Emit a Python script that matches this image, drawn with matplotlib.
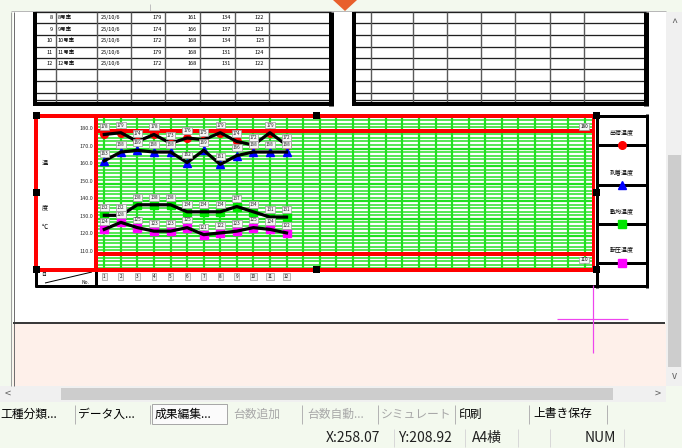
import matplotlib
matplotlib.use('Agg')
import matplotlib.pyplot as plt
from matplotlib.patches import Rectangle, Polygon
from matplotlib.transforms import ScaledTranslation

plt.rcParams['font.family'] = ['Noto Sans CJK JP', 'DejaVu Sans']

# temperatures per truck (No. 1-12)
truck_no = [1, 2, 3, 4, 5, 6, 7, 8, 9, 10, 11, 12]
shipping_temp = [178, 179, 174, 178, 173, 176, 175, 179, 174, 172, 179, 172]
arrival_temp = [163, 168, 169, 168, 168, 162, 169, 161, 166, 168, 168, 168]
spreading_temp = [132, 132, 138, 138, 138, 134, 134, 134, 137, 134, 131, 131]
rolling_temp = [124, 128, 125, 123, 123, 125, 121, 122, 123, 125, 124, 122]

series_names = ['出荷温度', '到着温度', '敷均温度', '転圧温度']
series_colors = ['#ff0000', '#0000ff', '#00e600', '#ff00ff']
series_markers = ['o', '^', 's', 's']
upper_limit = 180
lower_limit = 110
y_ticks = [110, 120, 130, 140, 150, 160, 170, 180]
n_columns = 30

table_rows = [8, 9, 10, 11, 12]
date_text = '25/10/6'

toolbar_labels = ['工種分類...', 'データ入...', '成果編集...', '台数追加', '台数自動...', 'シミュレート', '印刷', '上書き保存']
toolbar_enabled = [True, True, True, False, False, False, True, True]
status_labels = ['X:258.07', 'Y:208.92', 'A4横', 'NUM']

PX = 0.72  # points per pixel at 100 dpi
GREEN = '#22e022'


def line(ax, xs, ys, px=1.0, color='black', z=2):
    ax.plot(xs, ys, color=color, lw=px * PX, solid_capstyle='butt', zorder=z)


def box(ax, x0, y0, x1, y1, fc, ec='none', px=0.0, z=1):
    ax.add_patch(Rectangle((x0, y0), x1 - x0, y1 - y0, facecolor=fc, edgecolor=ec, lw=px * PX, zorder=z))


fig = plt.figure(figsize=(6.82, 4.48), dpi=100)

# ---- window chrome / page (pixel coordinates)
bg = fig.add_axes([0, 0, 1, 1], zorder=0)
bg.set_xlim(0, 682)
bg.set_ylim(448, 0)
bg.axis('off')

box(bg, 0, 0, 682, 448, '#f3f9ee', z=0)
box(bg, 13, 12, 666, 323, 'white', z=0.5)
box(bg, 13, 324, 666, 386, '#fef0ea', z=0.5)
line(bg, [11, 666], [11.5, 11.5], 1, '#b8b8b8')
line(bg, [11, 11], [12, 386], 1, '#a0a0a0')
line(bg, [13.5, 13.5], [12, 386], 1, '#707070')
line(bg, [150, 150], [4, 11], 1, '#c0c0c0')
bg.add_patch(Polygon([[333, 0], [357, 0], [345, 11]], closed=True, fc='#e8602c', ec='none', zorder=3))
line(bg, [13, 665], [323, 323], 2, '#3a3a3a')

# vertical scrollbar
box(bg, 666, 12, 682, 386, '#f0f0f0', z=0.6)
box(bg, 668, 155, 681, 367, '#cdcdcd', z=0.7)
bg.text(674, 23, '^', ha='center', va='center', fontsize=8, color='#606060')
bg.text(674, 376, 'v', ha='center', va='center', fontsize=7, color='#606060')

# horizontal scrollbar
box(bg, 0, 386, 666, 402, '#f0f0f0', z=0.6)
box(bg, 61, 388, 613, 400, '#cdcdcd', z=0.7)
bg.text(8, 394, '<', ha='center', va='center', fontsize=8, color='#606060')
bg.text(658, 394, '>', ha='center', va='center', fontsize=8, color='#606060')

# toolbar
tool_x = [0, 78, 155, 233, 307, 381, 459, 533]
tool_sep = [75, 150, 302, 378, 455, 529, 607]
box(bg, 152, 404, 227, 424, '#fbfbfb', '#a8a8a8', 1, z=0.8)
for label, x0, on in zip(toolbar_labels, tool_x, toolbar_enabled):
    bg.text(x0, 414, label, ha='left', va='center', fontsize=8.5,
            color='black' if on else '#a8a8a8')
for xs in tool_sep:
    line(bg, [xs, xs], [405, 424], 1, '#b4b4b4')

# status bar
status_x = [326, 398, 472, 585]
for label, x0 in zip(status_labels, status_x):
    bg.text(x0, 438, label, ha='left', va='center', fontsize=10, color='#202020')
for xs in [394, 465, 518, 550, 624]:
    line(bg, [xs, xs], [429, 447], 1, '#d8d8d8')

# ---- upper tables
rows_y = [12.5, 23.3, 35, 46.7, 58.3, 69.5, 81, 92.7, 100, 104]
left_cols = [35, 56, 96.7, 130.7, 165.3, 200, 235, 268.7, 330.5]
right_cols = [354, 370.7, 412.7, 446.7, 481, 515.3, 550, 584.3, 646]
for cols in (left_cols, right_cols):
    for ry in rows_y[:-1]:
        line(bg, [cols[0], cols[-1]], [ry, ry], 1.3, '#202020')
    for cx in cols[1:-1]:
        line(bg, [cx, cx], [12, 104], 1.4, '#5a5a5a')
    line(bg, [cols[0], cols[0]], [12, 106], 4)
    line(bg, [cols[-1], cols[-1]], [12, 106], 5)
    line(bg, [cols[0] - 2, cols[-1] + 2.5], [104.5, 104.5], 4)

table_cols = [shipping_temp, arrival_temp, spreading_temp, rolling_temp]
for i, n in enumerate(table_rows):
    yc = (rows_y[i] + rows_y[i + 1]) / 2
    bg.text(53, yc, str(n), ha='right', va='center', fontsize=4)
    bg.text(58, yc, f'{n}号車', ha='left', va='center', fontsize=4)
    bg.text(101, yc, date_text, ha='left', va='center', fontsize=4)
    for vals, xr in zip(table_cols, [162, 196.7, 230.7, 264.3]):
        bg.text(xr, yc, str(vals[n - 1]), ha='right', va='center', fontsize=4)

# ---- chart
ax = fig.add_axes([96 / 682, 1 - 270 / 448, 497 / 682, 154 / 448], zorder=1)
ax.set_facecolor('white')
ax.set_xlim(0.5, n_columns + 0.5)
ax.set_ylim(100.9, 188.5)

for v in range(102, 189, 2):
    ax.axhline(v, color=GREEN, lw=1.5 * PX, zorder=1)
for v in y_ticks:
    ax.axhline(v, color=GREEN, lw=2.2 * PX, zorder=1)
for c in range(1, n_columns + 1):
    ax.axvline(c, color=GREEN, lw=2.2 * PX, zorder=1)
ax.axhline(upper_limit, color='#ff0000', lw=4 * PX, zorder=2)
ax.axhline(lower_limit, color='#ff0000', lw=4 * PX, zorder=2)

all_series = [shipping_temp, arrival_temp, spreading_temp, rolling_temp]
for vals, col, mk in zip(all_series, series_colors, series_markers):
    ax.plot(truck_no, vals, linestyle='none', marker=mk, ms=5.5, color=col, mec=col, zorder=3)
    ax.plot(truck_no, vals, color='black', lw=2.3, zorder=4)
    for xi, v in zip(truck_no, vals):
        ax.annotate(str(v), (xi, v), xytext=(0, 5.5), textcoords='offset points',
                    ha='center', va='center', fontsize=3.3, color='#202020', zorder=5,
                    bbox=dict(boxstyle='square,pad=0.2', fc='#f6f6f6', ec='#9a9a9a', lw=0.5))

ax.set_xticks([])
ax.set_yticks(y_ticks)
ax.set_yticklabels([f'{v:.1f}' for v in y_ticks], fontsize=4, color='#303030')
ax.tick_params(axis='y', length=0, pad=2)
for lab in ax.get_yticklabels():
    lab.set_transform(lab.get_transform() + ScaledTranslation(0, 3 / 100, fig.dpi_scale_trans))
for s in ax.spines.values():
    s.set_visible(False)

xt = ax.get_xaxis_transform()
for xi in truck_no:
    ax.text(xi, -0.04, str(xi), transform=xt, ha='center', va='center', fontsize=3.3,
            clip_on=False, bbox=dict(boxstyle='square,pad=0.25', fc='#f2f2f2', ec='#9a9a9a', lw=0.5))
ax.annotate(str(upper_limit), (n_columns + 0.2, upper_limit), xytext=(0, 1.5), textcoords='offset points',
            ha='right', va='bottom', fontsize=3.3,
            bbox=dict(boxstyle='square,pad=0.2', fc='#f6f6f6', ec='#9a9a9a', lw=0.5))
ax.annotate(str(lower_limit), (n_columns + 0.2, lower_limit), xytext=(0, -2.5), textcoords='offset points',
            ha='right', va='top', fontsize=3.3,
            bbox=dict(boxstyle='square,pad=0.2', fc='#f6f6f6', ec='#9a9a9a', lw=0.5))

# ---- overlay: frames, handles, legend box
top = fig.add_axes([0, 0, 1, 1], zorder=2)
top.set_xlim(0, 682)
top.set_ylim(448, 0)
top.axis('off')
top.patch.set_alpha(0)

line(top, [36, 36], [270, 287], 3)
line(top, [96, 96], [270, 287], 3)
line(top, [34.5, 648], [286, 286], 3)
line(top, [45, 92], [283, 272], 1)
top.text(85, 282, 'No.', ha='center', va='center', fontsize=3.5)
top.text(44, 275, '日', ha='center', va='center', fontsize=3.5)

line(top, [36, 593], [116, 116], 4, '#ff0000')
line(top, [36, 593], [270, 270], 4, '#ff0000')
line(top, [36, 36], [116, 270], 4, '#ff0000')
line(top, [96, 96], [116, 270], 4, '#ff0000')
line(top, [593, 593], [116, 270], 3, '#ff0000')

for ch, yc in zip(['温', '度', '℃'], [163, 207, 227]):
    top.text(45, yc, ch, ha='center', va='center', fontsize=4.5)

# legend table
line(top, [597, 597], [114, 288], 3)
line(top, [646.5, 646.5], [114, 288], 3)
line(top, [596, 648], [116, 116], 3)
sep_y = [145, 185, 224, 263]
for name, col, mk, sy in zip(series_names, series_colors, series_markers, sep_y):
    line(top, [597, 647], [sy, sy], 3)
    top.text(621.5, sy - 13, name, ha='center', va='center', fontsize=4.3)
    top.plot(621.5, sy, marker=mk, color=col, ms=5.5, zorder=4)

for hx, hy in [(36, 116), (316, 116), (596, 116), (36, 193), (596, 193),
               (36, 270), (316, 270), (596, 270)]:
    box(top, hx - 3.5, hy - 3.5, hx + 3.5, hy + 3.5, 'black', z=5)

# crosshair cursor
line(top, [593, 593], [285, 353], 1.2, '#ee44ee', z=6)
line(top, [557, 628], [319, 319], 1.2, '#ee44ee', z=6)

fig.savefig('out.png', dpi=100)
